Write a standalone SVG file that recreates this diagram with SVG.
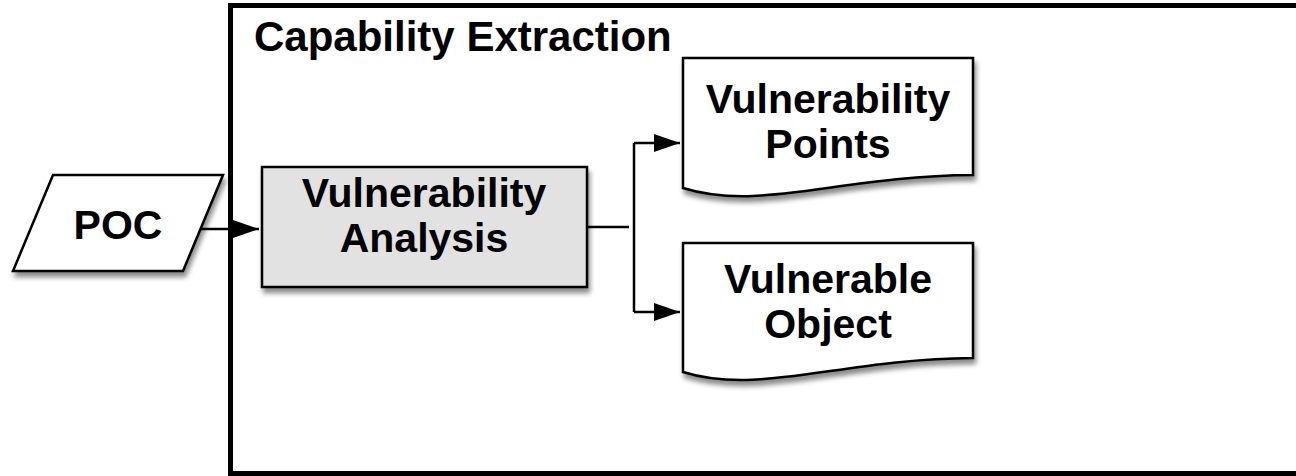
<svg xmlns="http://www.w3.org/2000/svg" width="1296" height="476" viewBox="0 0 1296 476">
<defs>
<filter id="sh" x="-10%" y="-10%" width="130%" height="140%">
<feDropShadow dx="2" dy="5" stdDeviation="2.5" flood-color="#000" flood-opacity="0.45"/>
</filter>
<marker id="ah" markerWidth="26" markerHeight="18" refX="26" refY="9" orient="auto" markerUnits="userSpaceOnUse">
<path d="M0,0 L26,9 L0,18 Z" fill="#000"/>
</marker>
</defs>
<style>
text{font-family:"Liberation Sans",Arial,Helvetica,sans-serif;font-weight:bold;font-size:41px;fill:#000;text-anchor:middle}
.shape{stroke:#000;stroke-width:2.5;fill:#fff;filter:url(#sh)}
.conn{stroke:#000;stroke-width:2.5;fill:none}
</style>
<rect width="1296" height="476" fill="#fff"/>
<g id="frame">
<rect x="230.5" y="5.5" width="1200" height="468" fill="none" stroke="#000" stroke-width="5"/>
<text x="254" y="51" style="text-anchor:start;font-size:42px">Capability Extraction</text>
</g>
<g id="poc">
<path class="shape" d="M53,175 L223,175 L183,271 L13,271 Z"/>
<text x="118" y="239">POC</text>
</g>
<g id="analysis">
<rect class="shape" x="262" y="167" width="325" height="120" style="fill:#e2e2e2"/>
<text x="424" y="207">Vulnerability</text>
<text x="424" y="252">Analysis</text>
</g>
<g id="points">
<path class="shape" d="M683,58 L973,58 L973,175 C840,176 760,212 683,188 Z"/>
<text x="828" y="113">Vulnerability</text>
<text x="828" y="158">Points</text>
</g>
<g id="object">
<path class="shape" d="M683,243 L973,243 L973,358 C840,359 760,396 683,372 Z"/>
<text x="828" y="293">Vulnerable</text>
<text x="828" y="338">Object</text>
</g>
<g id="connectors">
<line class="conn" x1="201" y1="229" x2="259" y2="229" marker-end="url(#ah)"/>
<line class="conn" x1="587" y1="227" x2="629" y2="227"/>
<path class="conn" d="M634,143 L634,312"/>
<line class="conn" x1="634" y1="143" x2="680" y2="143" marker-end="url(#ah)"/>
<line class="conn" x1="634" y1="312" x2="680" y2="312" marker-end="url(#ah)"/>
</g>
</svg>
